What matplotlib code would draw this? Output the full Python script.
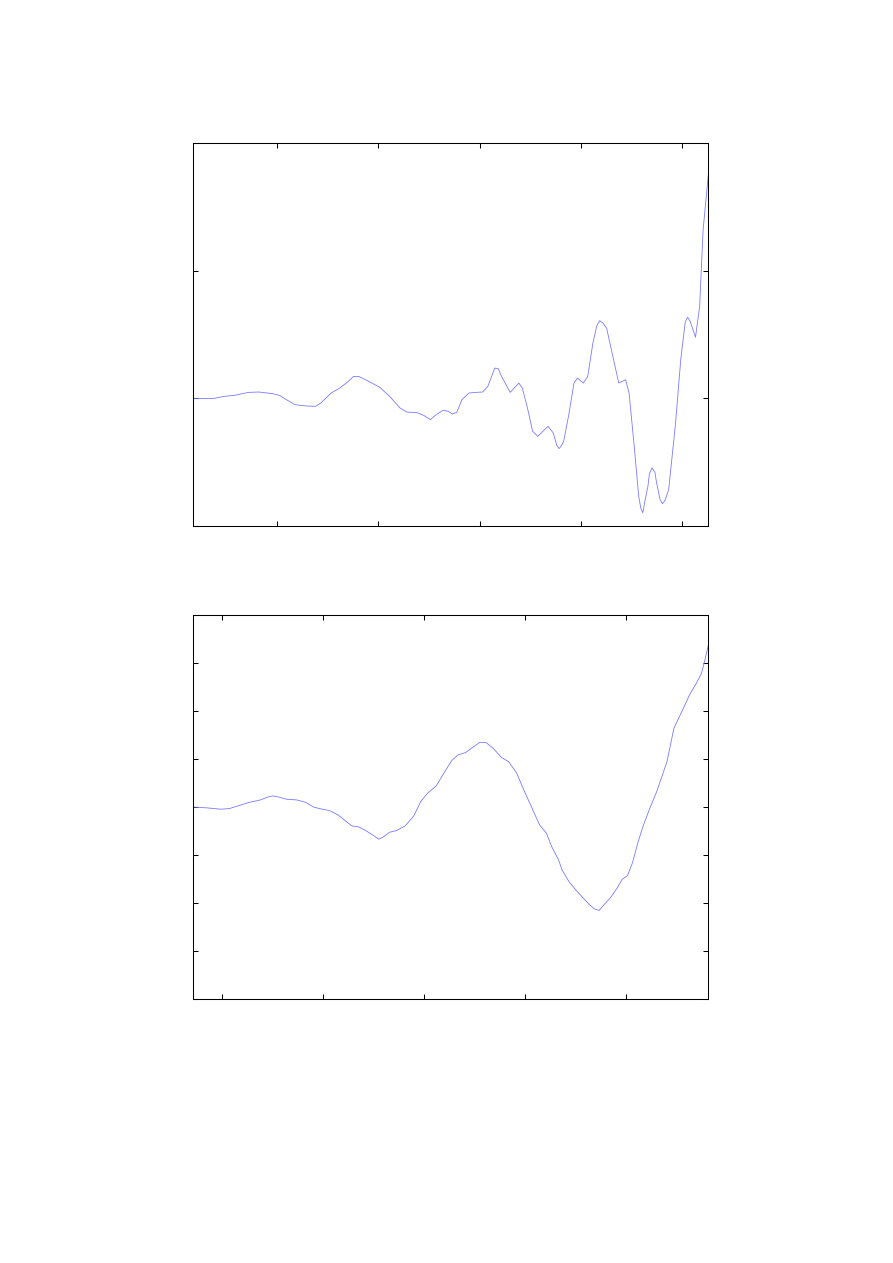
#!/usr/bin/env python3

# two stacked traces, no labels (matlab-style boxed axes)
import matplotlib
matplotlib.use('Agg')
import matplotlib.pyplot as plt

# upper trace
x_top = [0.169, 0.373, 0.476, 0.578, 0.714, 0.816, 0.953, 1.021, 1.089, 1.174,
         1.293, 1.379, 1.430, 1.532, 1.617, 1.702, 1.753, 1.804, 1.873, 2.009,
         2.111, 2.213, 2.281, 2.384, 2.452, 2.513, 2.571, 2.639, 2.690, 2.731,
         2.775, 2.826, 2.895, 2.963, 3.031, 3.082, 3.150, 3.184, 3.218, 3.303,
         3.389, 3.423, 3.474, 3.525, 3.576, 3.678, 3.729, 3.765, 3.787, 3.810,
         3.832, 3.883, 3.934, 3.968, 4.026, 4.070, 4.121, 4.160, 4.189, 4.220,
         4.257, 4.319, 4.377, 4.445, 4.479, 4.530, 4.574, 4.595, 4.615, 4.637,
         4.666, 4.680, 4.707, 4.735, 4.751, 4.785, 4.809, 4.835, 4.871, 4.939,
         4.990, 5.035, 5.058, 5.085, 5.136, 5.177, 5.211, 5.263]
y_top = [0.000, 0.000, 0.016, 0.024, 0.047, 0.050, 0.037, 0.024, -0.010, -0.049,
         -0.060, -0.062, -0.036, 0.042, 0.081, 0.133, 0.172, 0.172, 0.146, 0.089,
         0.016, -0.075, -0.107, -0.112, -0.135, -0.167, -0.127, -0.094, -0.101, -0.122,
         -0.109, -0.010, 0.042, 0.047, 0.050, 0.094, 0.237, 0.234, 0.172, 0.047,
         0.120, 0.081, -0.075, -0.258, -0.297, -0.219, -0.271, -0.370, -0.393, -0.370,
         -0.336, -0.127, 0.120, 0.159, 0.120, 0.172, 0.432, 0.570, 0.609, 0.590,
         0.550, 0.328, 0.120, 0.146, 0.042, -0.375, -0.765, -0.860, -0.896, -0.800,
         -0.687, -0.590, -0.544, -0.580, -0.661, -0.790, -0.825, -0.800, -0.713, -0.193,
         0.302, 0.600, 0.636, 0.600, 0.479, 0.719, 1.318, 1.750]

# lower trace
x_bot = [0.719, 0.855, 0.992, 1.077, 1.162, 1.265, 1.384, 1.452, 1.504, 1.572,
         1.640, 1.742, 1.828, 1.913, 1.981, 2.066, 2.152, 2.220, 2.288, 2.356,
         2.425, 2.493, 2.554, 2.595, 2.663, 2.731, 2.817, 2.902, 2.970, 3.038,
         3.124, 3.209, 3.277, 3.339, 3.414, 3.482, 3.557, 3.618, 3.687, 3.772,
         3.840, 3.918, 3.994, 4.062, 4.147, 4.215, 4.266, 4.335, 4.369, 4.437,
         4.505, 4.573, 4.642, 4.693, 4.737, 4.785, 4.846, 4.915, 4.966, 5.017,
         5.068, 5.119, 5.170, 5.239, 5.307, 5.358, 5.409, 5.477, 5.563, 5.631,
         5.699, 5.750, 5.784, 5.818]
y_bot = [0.000, -0.017, -0.045, -0.031, 0.025, 0.094, 0.149, 0.205, 0.233, 0.205,
         0.163, 0.149, 0.101, -0.003, -0.038, -0.073, -0.163, -0.281, -0.392, -0.413,
         -0.489, -0.579, -0.669, -0.628, -0.524, -0.489, -0.392, -0.184, 0.115, 0.288,
         0.441, 0.739, 0.968, 1.086, 1.135, 1.239, 1.350, 1.343, 1.225, 1.031,
         0.947, 0.718, 0.344, 0.025, -0.371, -0.544, -0.822, -1.099, -1.308, -1.550,
         -1.724, -1.883, -2.036, -2.126, -2.154, -2.036, -1.897, -1.689, -1.502, -1.432,
         -1.155, -0.753, -0.406, -0.024, 0.323, 0.635, 0.947, 1.641, 2.023, 2.335,
         2.578, 2.786, 3.063, 3.376]

xticks = [1, 2, 3, 4, 5]
yticks_top = [-1, 0, 1, 2]
yticks_bot = [-4, -3, -2, -1, 0, 1, 2, 3, 4]

fig = plt.figure(figsize=(8.93, 12.63), dpi=100)
ax1 = fig.add_axes([0.2165, 0.5835, 0.5767, 0.3032])
ax2 = fig.add_axes([0.2165, 0.2090, 0.5767, 0.3040])

setups = [
    (ax1, x_top, y_top, (0.169, 5.263), (-1, 2), yticks_top),
    (ax2, x_bot, y_bot, (0.719, 5.818), (-4, 4), yticks_bot),
]
for ax, xs, ys, xl, yl, yt in setups:
    ax.plot(xs, ys, '-', color='#7a7aff', linewidth=0.6)
    ax.set_xlim(xl)
    ax.set_ylim(yl)
    ax.set_xticks(xticks)
    ax.set_yticks(yt)
    ax.tick_params(direction='in', length=3.6, width=0.75,
                   top=True, right=True,
                   labelbottom=False, labelleft=False)
    for s in ax.spines.values():
        s.set_linewidth(0.75)

fig.savefig('out.png', dpi=100)
